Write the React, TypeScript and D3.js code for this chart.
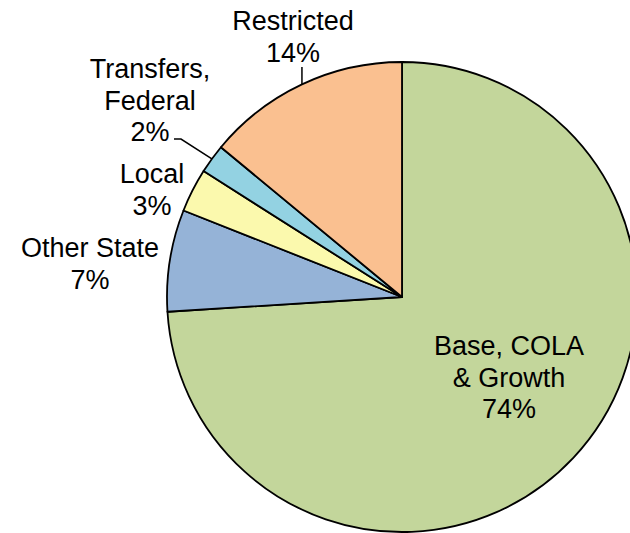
import React from "react";
import * as d3 from "d3";

const categories = ["Base, COLA & Growth", "Other State", "Local", "Transfers, Federal", "Restricted"];
const values = [74, 7, 3, 2, 14];
const labelLines = [
  ["Base, COLA", "& Growth", "74%"],
  ["Other State", "7%"],
  ["Local", "3%"],
  ["Transfers,", "Federal", "2%"],
  ["Restricted", "14%"],
];
const colors = ["#c3d69b", "#95b3d7", "#fbf9ad", "#93d2e2", "#fac090"];

// layout (pixel placement of labels)
const W = 630;
const H = 533;
const cx = 402;
const cy = 297;
const R = 235;
const FONT = 27;
const LINE_H = 31.5;
const labelPos: [number, number][] = [
  [509, 355],
  [90, 257],
  [152, 183],
  [150, 78],
  [293, 30],
];

export default function App() {
  const pie = d3.pie<number>().sort(null).value((d) => d);
  const arcs = pie(values);
  const arcGen = d3.arc<d3.PieArcDatum<number>>().innerRadius(0).outerRadius(R);

  const edgePoint = (a: d3.PieArcDatum<number>) => {
    const m = (a.startAngle + a.endAngle) / 2;
    return [cx + R * Math.sin(m), cy - R * Math.cos(m)];
  };

  const restricted = edgePoint(arcs[4]);
  const transfers = edgePoint(arcs[3]);

  return (
    <svg
      width={W}
      height={H}
      style={{ position: "absolute", left: 0, top: 0, background: "#fff" }}
      fontFamily="'Liberation Sans', Arial, sans-serif"
    >
      <g transform={`translate(${cx},${cy})`}>
        {arcs.map((a, i) => (
          <path
            key={categories[i]}
            d={arcGen(a) || ""}
            fill={colors[i]}
            stroke="#000"
            strokeWidth={1.8}
            strokeLinejoin="round"
          />
        ))}
      </g>
      {/* leader lines */}
      <path
        d={`M${restricted[0]},${restricted[1]} L${restricted[0]},${67}`}
        stroke="#000"
        strokeWidth={1.5}
        fill="none"
      />
      <path
        d={`M${transfers[0]},${transfers[1]} L${181},${139} L${174},${139}`}
        stroke="#000"
        strokeWidth={1.5}
        fill="none"
      />
      {labelLines.map((lines, i) => (
        <text
          key={categories[i]}
          x={labelPos[i][0]}
          y={labelPos[i][1]}
          textAnchor="middle"
          fontSize={FONT}
          fill="#000"
        >
          {lines.map((l, j) => (
            <tspan key={j} x={labelPos[i][0]} y={labelPos[i][1] + j * LINE_H}>
              {l}
            </tspan>
          ))}
        </text>
      ))}
    </svg>
  );
}
